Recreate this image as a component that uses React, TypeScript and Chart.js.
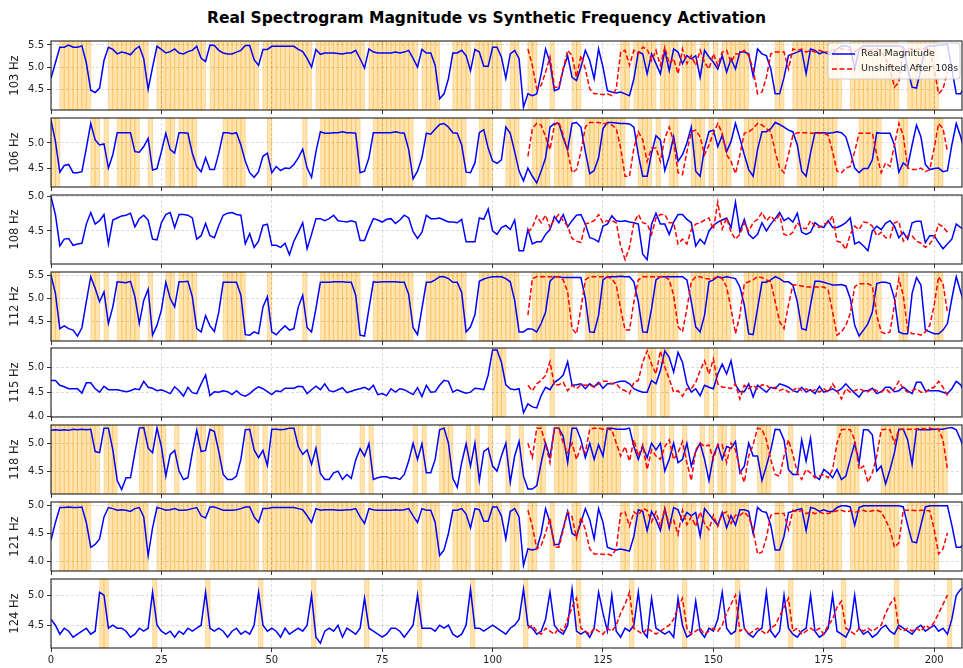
import { useEffect, useRef } from "react";
import { Chart, registerables } from "chart.js";

Chart.register(...registerables);

const FONT = "'DejaVu Sans', sans-serif";
const TITLE = "Real Spectrogram Magnitude vs Synthetic Frequency Activation";
const LEGEND_BLUE = "Real Magnitude";
const LEGEND_RED = "Unshifted After 108s";
const xTickValues = [0, 25, 50, 75, 100, 125, 150, 175, 200];
const X_MIN = 0;
const X_MAX = 206.3;
const RED_START = 108;

// ---------- 103 Hz ----------
const blue103 = [
  4.75,5.1,5.45,5.45,5.5,5.45,5.45,5.48,5.1,4.48,
  4.43,4.53,5.15,5.45,5.4,5.3,5.34,5.32,5.28,5.4,
  5.47,5.19,4.5,5.0,5.47,5.4,5.32,5.35,5.41,5.32,
  5.3,5.35,5.38,5.47,5.2,5.13,5.5,5.49,5.38,5.32,
  5.3,5.3,5.34,5.38,5.49,5.49,5.17,5.04,5.4,5.4,
  5.47,5.47,5.47,5.47,5.47,5.47,5.4,5.35,5.2,5.0,
  5.4,5.29,5.32,5.32,5.32,5.31,5.3,5.32,5.32,5.38,
  5.19,4.98,5.41,5.34,5.32,5.32,5.32,5.32,5.34,5.32,
  5.34,5.38,5.2,5.0,5.4,5.32,5.32,5.04,4.29,4.4,
  4.74,5.32,5.32,5.38,5.26,4.92,5.4,5.34,5.02,5.02,
  5.45,5.45,5.23,4.75,5.3,5.38,5.19,4.1,4.4,4.36,
  4.4,4.85,5.41,5.11,4.47,4.51,4.96,5.26,4.77,4.7,
  5.0,5.38,5.15,4.74,5.41,5.0,4.47,4.44,4.42,4.44,
  4.4,4.36,4.74,5.34,5.3,4.85,5.3,5.08,4.85,5.38,
  4.92,5.41,5.34,5.08,5.26,5.19,5.26,4.77,5.38,5.23,
  5.11,4.96,5.26,4.89,5.19,4.96,5.34,5.34,5.3,4.8,
  5.41,5.3,5.26,4.96,4.4,4.4,4.77,5.26,5.3,5.34,
  5.38,4.85,5.41,5.38,5.3,5.34,5.3,5.3,5.41,5.48,
  5.48,5.45,4.96,5.41,5.48,5.48,5.48,5.48,5.48,5.48,
  5.48,5.48,5.48,5.45,4.96,4.55,4.53,4.96,5.45,5.48,
  5.48,5.5,5.5,5.52,4.96,4.4,4.4,4.6,
];
const red103 = [
  5.41,5.04,4.51,4.59,4.89,5.23,4.55,4.55,4.96,5.38,
  5.26,4.77,5.26,4.96,4.51,4.4,4.4,4.38,4.4,4.36,
  4.51,5.34,5.38,5.04,5.38,5.3,5.45,5.41,5.15,5.38,
  5.04,5.45,5.08,5.19,4.85,5.41,5.08,5.26,5.04,5.38,
  5.11,4.96,5.3,5.04,5.34,5.38,5.11,5.3,5.3,5.38,
  5.26,4.96,4.4,4.44,4.77,5.3,5.34,5.34,5.34,4.96,
  5.41,5.38,5.41,5.34,5.38,5.34,5.38,5.34,5.34,5.38,
  5.4,5.42,5.38,5.4,5.36,5.4,5.42,5.38,5.4,5.41,
  5.38,5.2,4.96,4.55,4.66,5.41,5.41,5.42,5.4,5.41,
  5.42,5.4,4.96,4.4,4.51,4.89,
];
const spans103 = [
  [2,9],[13,22],[24,35],[36,47],[48,59],[60,71],[72,83],[84,88],[91,95],[96,102],
  [104,106],[108,110],[113,114],[118,120],[129,131],[132,137],[138,142],[143,146],
  [147,149],[150,151],[152,155],[155,158],[164,166],[168,173],[173,179],[181,192],[194,201],
];

// ---------- 106 Hz ----------
const blue106 = [
  5.44,5.03,4.43,4.56,4.58,4.42,4.42,4.44,4.9,5.38,
  5.06,4.96,4.98,4.51,4.77,5.2,5.2,5.2,5.2,4.83,
  4.82,4.93,5.09,4.47,4.5,4.83,5.19,4.87,4.8,5.2,
  5.2,5.19,4.8,4.54,4.44,4.71,4.48,4.48,4.8,5.2,
  5.2,5.18,5.2,4.96,4.64,4.42,4.33,4.44,4.74,4.8,
  4.42,4.54,4.46,4.51,4.5,4.58,4.71,4.88,4.51,4.33,
  4.83,5.22,5.19,5.19,5.2,5.2,5.22,5.2,5.2,5.19,
  4.42,4.45,4.71,5.2,5.2,5.2,5.2,5.2,5.22,5.2,
  5.19,4.87,4.3,4.45,4.71,5.19,5.17,5.27,5.36,5.38,
  5.31,5.2,5.19,4.96,4.43,4.42,4.61,5.2,5.26,4.9,
  4.65,4.6,4.67,5.31,5.19,4.83,4.45,4.26,4.51,4.35,
  4.22,4.45,4.71,5.31,5.38,5.38,5.09,4.87,5.38,5.4,
  5.31,4.83,4.4,4.46,4.71,5.28,5.4,5.4,5.39,5.38,
  5.38,5.37,5.31,4.77,4.35,4.35,4.8,5.14,5.06,4.46,
  4.74,5.12,4.64,4.77,5.0,5.31,4.45,4.35,4.9,5.22,
  5.25,4.93,5.15,4.83,5.03,5.38,5.09,4.77,4.48,4.35,
  4.87,5.22,5.22,5.28,5.4,5.36,5.31,5.25,5.22,4.96,
  4.45,4.35,4.8,5.2,5.2,5.2,5.19,5.2,5.22,5.2,
  5.12,4.83,4.51,4.42,4.5,4.5,4.67,5.2,5.19,5.19,
  5.19,4.96,4.43,4.61,4.54,4.96,5.35,5.12,4.58,4.48,
  4.5,4.51,4.44,4.46,4.96,5.38,5.12,4.8,
];
const red106 = [
  4.74,5.28,5.38,5.35,5.12,4.87,5.35,5.41,5.15,4.83,
  4.42,4.48,4.83,5.31,5.4,5.4,5.4,5.38,5.38,5.35,
  5.28,4.9,4.35,4.35,4.9,5.22,5.06,4.64,4.9,4.9,
  4.64,5.09,5.31,5.03,4.42,4.38,4.83,5.22,5.25,5.12,
  4.77,4.96,5.19,5.38,5.19,4.77,4.64,4.4,4.77,5.19,
  5.22,5.28,5.38,5.35,5.28,5.22,4.83,4.51,4.42,4.77,
  5.15,5.2,5.2,5.2,5.19,5.19,5.19,5.19,5.15,4.83,
  4.45,4.42,4.51,4.54,4.83,5.19,5.19,5.19,5.19,4.77,
  4.42,4.61,4.54,4.96,5.38,5.15,4.51,4.48,4.48,4.51,
  4.44,4.48,4.9,5.38,5.28,4.83,
];
const spans106 = [
  [0,2],[9,11],[12,13],[15,20],[22,23],[26,28],[29,33],[39,44],[49,50],[57,58],
  [61,70],[73,82],[85,94],[97,100],[103,106],[109,113],[114,118],[121,130],[133,136],
  [137,138],[140,142],[145,148],[149,150],[151,154],[157,166],[169,178],[183,188],[192,194],[200,202],
];

// ---------- 108 Hz ----------
const blue108 = [
  5.0,4.74,4.28,4.38,4.39,4.29,4.31,4.32,4.6,4.77,
  4.6,4.65,4.74,4.31,4.66,4.69,4.72,4.73,4.76,4.56,
  4.68,4.73,4.66,4.38,4.37,4.62,4.74,4.77,4.55,4.74,
  4.74,4.73,4.69,4.38,4.43,4.61,4.43,4.4,4.58,4.73,
  4.76,4.77,4.74,4.73,4.31,4.46,4.26,4.35,4.58,4.6,
  4.29,4.29,4.26,4.32,4.15,4.35,4.48,4.62,4.24,4.45,
  4.68,4.68,4.65,4.68,4.73,4.65,4.64,4.63,4.65,4.63,
  4.36,4.36,4.53,4.68,4.66,4.63,4.67,4.68,4.61,4.66,
  4.73,4.69,4.49,4.39,4.48,4.73,4.68,4.68,4.69,4.66,
  4.63,4.63,4.62,4.67,4.34,4.34,4.34,4.69,4.67,4.82,
  4.5,4.45,4.55,4.58,4.52,4.66,4.21,4.21,4.52,4.31,
  4.34,4.34,4.45,4.52,4.71,4.62,4.74,4.56,4.65,4.73,
  4.74,4.6,4.4,4.38,4.34,4.57,4.6,4.72,4.65,4.64,
  4.65,4.63,4.62,4.6,4.16,4.08,4.6,4.76,4.6,4.6,
  4.45,4.63,4.74,4.74,4.67,4.62,4.28,4.38,4.31,4.5,
  4.58,4.63,4.66,4.69,4.55,4.92,4.49,4.67,4.45,4.39,
  4.45,4.62,4.5,4.6,4.68,4.77,4.65,4.69,4.63,4.76,
  4.48,4.45,4.48,4.62,4.57,4.55,4.65,4.55,4.55,4.58,
  4.62,4.69,4.31,4.34,4.28,4.21,4.5,4.57,4.52,4.61,
  4.65,4.57,4.4,4.48,4.38,4.62,4.64,4.64,4.33,4.43,
  4.43,4.33,4.24,4.31,4.38,4.6,4.55,4.5,
];
const red108 = [
  4.48,4.55,4.72,4.62,4.73,4.55,4.67,4.74,4.65,4.57,
  4.39,4.35,4.33,4.6,4.62,4.65,4.74,4.62,4.65,4.65,
  4.62,4.28,4.08,4.26,4.62,4.74,4.62,4.6,4.45,4.69,
  4.74,4.74,4.62,4.62,4.31,4.38,4.31,4.52,4.6,4.62,
  4.66,4.69,4.52,4.92,4.53,4.69,4.48,4.38,4.45,4.62,
  4.5,4.62,4.67,4.77,4.65,4.72,4.65,4.73,4.45,4.43,
  4.48,4.62,4.55,4.53,4.65,4.57,4.55,4.6,4.62,4.72,
  4.35,4.33,4.23,4.45,4.57,4.52,4.63,4.62,4.57,4.43,
  4.48,4.4,4.4,4.62,4.64,4.35,4.43,4.43,4.35,4.32,
  4.26,4.31,4.4,4.6,4.56,4.48,
];
const spans108: number[][] = [];

// ---------- 112 Hz ----------
const blue112 = [
  5.5,5.11,4.35,4.41,4.35,4.32,4.19,4.37,4.93,5.47,
  5.22,4.93,5.14,4.46,4.82,5.36,5.35,5.34,5.37,5.04,
  4.46,4.96,5.2,4.21,4.42,4.75,5.35,5.0,4.82,5.36,
  5.36,5.37,5.04,4.35,4.28,4.63,4.41,4.29,4.71,5.35,
  5.35,5.35,5.35,5.07,4.22,4.21,4.28,4.24,4.82,5.04,
  4.28,4.22,4.32,4.41,4.32,4.35,4.82,5.07,4.37,4.28,
  4.78,5.35,5.35,5.35,5.36,5.36,5.36,5.35,5.35,5.07,
  4.21,4.19,4.78,5.36,5.35,5.36,5.36,5.36,5.36,5.35,
  5.35,5.09,4.37,4.22,4.78,5.35,5.35,5.4,5.47,5.47,
  5.43,5.35,5.35,5.13,4.28,4.39,4.65,5.37,5.42,5.45,
  5.47,5.47,5.47,5.43,5.36,4.96,4.28,4.28,4.35,4.34,
  4.28,4.46,4.71,5.37,5.47,5.47,5.45,5.45,5.45,5.45,
  5.45,5.0,4.28,4.27,4.64,5.4,5.47,5.47,5.47,5.48,
  5.47,5.47,5.36,4.93,4.28,4.27,4.78,5.4,5.47,5.47,
  5.47,5.47,5.47,5.47,5.4,4.93,4.39,4.28,4.64,5.36,
  5.4,5.47,5.45,5.47,5.45,5.43,5.25,4.86,4.24,4.22,
  4.78,5.35,5.35,5.4,5.47,5.43,5.36,5.36,5.29,4.93,
  4.35,4.32,4.86,5.37,5.37,5.35,5.32,5.29,5.29,5.3,
  5.27,5.0,4.42,4.19,4.32,4.46,4.71,5.32,5.35,5.35,
  5.32,5.0,4.28,4.24,4.24,5.11,5.45,5.29,4.32,4.28,
  4.24,4.24,4.32,4.46,5.0,5.47,5.14,4.85,
];
const red112 = [
  4.64,5.43,5.47,5.47,5.47,5.47,5.47,5.47,5.4,5.14,
  4.35,4.24,4.78,5.4,5.47,5.47,5.47,5.47,5.47,5.43,
  5.29,4.78,4.32,4.32,4.93,5.4,5.47,5.47,5.47,5.47,
  5.47,5.47,5.4,5.07,4.39,4.28,4.78,5.36,5.47,5.47,
  5.43,5.42,5.43,5.47,5.43,5.25,4.78,4.24,4.64,5.32,
  5.36,5.4,5.47,5.45,5.4,5.36,4.93,4.5,4.35,4.86,
  5.29,5.29,5.27,5.25,5.25,5.25,5.25,5.25,5.18,4.71,
  4.21,4.28,4.42,4.68,5.25,5.32,5.32,5.32,5.27,4.64,
  4.28,4.24,4.28,4.86,5.43,5.07,4.32,4.24,4.24,4.21,
  4.28,4.42,4.86,5.47,5.32,4.71,
];
const spans112 = [
  [0,2],[9,11],[12,13],[15,20],[22,23],[26,28],[29,33],[39,44],[49,50],[57,58],
  [61,70],[73,82],[85,94],[97,106],[109,118],[121,130],[133,142],[145,154],[157,166],
  [169,178],[183,188],[192,194],[200,202],
];

// ---------- 115 Hz ----------
const blue115 = [
  4.74,4.74,4.64,4.61,4.57,4.57,4.57,4.48,4.69,4.69,
  4.57,4.5,4.62,4.55,4.55,4.55,4.53,4.51,4.53,4.57,
  4.55,4.72,4.6,4.58,4.53,4.55,4.51,4.47,4.61,4.53,
  4.42,4.6,4.49,4.47,4.67,4.85,4.43,4.51,4.5,4.53,
  4.51,4.45,4.53,4.45,4.42,4.47,4.55,4.61,4.57,4.51,
  4.45,4.53,4.51,4.58,4.58,4.58,4.62,4.61,4.47,4.55,
  4.62,4.55,4.67,4.53,4.51,4.55,4.59,4.49,4.52,4.55,
  4.57,4.6,4.55,4.64,4.45,4.47,4.43,4.57,4.5,4.57,
  4.55,4.5,4.45,4.59,4.41,4.64,4.5,4.51,4.64,4.74,
  4.72,4.5,4.55,4.51,4.48,4.5,4.58,4.57,4.55,4.85,
  5.36,5.36,5.11,4.65,4.57,4.55,4.57,4.08,4.26,4.2,
  4.18,4.43,4.6,4.55,4.7,4.76,4.85,5.12,4.64,4.65,
  4.67,4.57,4.67,4.61,4.7,4.58,4.67,4.67,4.7,4.72,
  4.72,4.67,4.57,4.53,4.5,4.5,4.74,4.67,4.94,5.34,
  5.21,4.91,5.31,5.11,4.67,4.5,4.57,4.43,4.64,4.6,
  4.57,4.87,5.07,4.87,5.14,4.65,4.51,4.51,4.67,4.4,
  4.64,4.57,4.5,4.6,4.57,4.67,4.64,4.6,4.53,4.5,
  4.6,4.5,4.55,4.47,4.62,4.5,4.53,4.57,4.51,4.57,
  4.67,4.57,4.48,4.4,4.53,4.53,4.58,4.47,4.51,4.6,
  4.6,4.51,4.53,4.6,4.53,4.47,4.7,4.7,4.53,4.53,
  4.53,4.53,4.5,4.47,4.57,4.72,4.65,4.45,
];
const red115 = [
  4.64,4.53,4.67,4.74,4.84,5.12,4.64,4.65,4.7,4.53,
  4.64,4.57,4.65,4.64,4.65,4.6,4.67,4.72,4.72,4.67,
  4.67,4.57,4.53,4.47,4.7,4.74,5.11,5.34,5.07,4.87,
  5.34,5.01,4.77,4.5,4.53,4.42,4.57,4.57,4.7,4.94,
  5.14,4.87,5.18,4.67,4.6,4.6,4.57,4.67,4.36,4.64,
  4.57,4.64,4.57,4.65,4.64,4.57,4.6,4.53,4.57,4.5,
  4.53,4.6,4.53,4.57,4.51,4.55,4.5,4.57,4.5,4.67,
  4.53,4.36,4.57,4.5,4.53,4.57,4.53,4.51,4.57,4.53,
  4.5,4.57,4.49,4.57,4.72,4.57,4.5,4.53,4.57,4.5,
  4.5,4.57,4.6,4.72,4.6,4.43,
];
const spans115 = [[100,103],[113,114],[135,137],[138,140],[148,149],[150,151]];

// ---------- 118 Hz ----------
const blue118 = [
  5.24,5.25,5.24,5.25,5.24,5.26,5.25,5.26,5.25,5.26,
  4.86,4.84,5.28,5.28,4.89,4.34,4.18,4.39,4.39,4.84,
  5.28,5.29,4.92,4.84,5.28,4.95,4.42,4.81,4.88,4.51,
  4.36,4.39,4.84,5.24,4.86,4.88,5.26,5.22,4.86,4.45,
  4.36,4.36,4.42,4.72,5.25,5.26,4.89,4.75,4.88,4.61,
  5.26,5.26,5.25,5.26,5.28,5.28,4.95,4.81,4.89,4.63,
  4.92,4.47,4.36,4.36,4.48,4.51,4.36,4.45,4.38,4.71,
  4.91,4.78,5.0,4.36,4.39,4.41,4.41,4.38,4.39,4.36,
  4.45,4.69,5.01,4.72,5.0,4.48,4.48,4.72,5.25,5.28,
  5.01,4.38,4.22,4.66,5.0,4.6,5.01,4.34,4.86,4.92,
  4.6,4.51,4.78,5.01,4.31,4.78,5.04,4.42,4.19,4.19,
  4.25,4.66,5.01,4.75,5.28,5.28,5.13,4.66,5.28,5.28,
  5.07,4.75,5.01,4.72,4.98,4.78,5.28,5.28,5.26,5.26,
  5.26,5.28,4.95,4.72,4.95,4.75,5.01,4.89,5.01,4.51,
  4.72,5.01,4.66,4.72,5.01,4.6,4.86,5.01,4.72,4.34,
  4.78,4.98,4.72,4.95,4.92,5.04,4.48,4.6,5.01,4.78,
  4.78,4.34,4.6,4.89,5.26,5.25,5.07,4.54,4.45,4.45,
  5.07,4.69,5.1,4.42,4.36,4.54,4.48,4.39,4.54,4.36,
  4.42,4.72,5.01,4.66,5.25,5.25,5.16,4.51,4.6,4.28,
  4.54,4.84,5.26,5.26,5.07,4.63,5.26,5.25,5.25,5.25,
  5.26,5.26,5.26,5.28,5.29,5.25,5.07,4.84,
];
const red118 = [
  5.01,4.75,5.28,5.28,4.98,4.66,5.28,5.28,5.01,4.84,
  5.01,4.72,4.95,4.84,5.26,5.28,5.28,5.26,5.26,5.25,
  5.01,4.78,4.95,4.69,5.07,4.78,4.98,4.54,4.89,4.78,
  4.72,4.95,5.07,4.72,4.84,5.04,4.66,4.34,4.89,5.01,
  4.95,4.98,4.72,4.98,4.98,4.66,5.01,4.89,4.54,4.31,
  4.78,4.98,5.28,5.26,5.07,4.72,4.45,4.42,4.78,5.07,
  4.81,4.48,4.36,4.54,4.48,4.39,4.42,4.45,4.39,4.54,
  5.01,5.25,5.26,5.25,5.07,4.54,4.6,4.31,4.48,4.78,
  5.25,5.26,5.25,5.01,5.25,5.26,5.26,5.26,5.26,5.28,
  5.26,5.28,5.26,5.26,5.07,4.54,
];
const spans118 = [
  [0,11],[12,15],[20,23],[24,26],[28,29],[33,35],[36,39],[44,47],[48,49],[50,57],
  [58,59],[60,61],[70,71],[72,73],[82,83],[84,85],[88,91],[94,95],[96,97],[99,100],
  [103,104],[106,107],[110,112],[114,119],[122,129],[132,133],[134,135],[136,137],
  [138,139],[140,141],[143,144],[147,148],[149,150],[151,153],[154,155],[160,163],
  [167,168],[178,183],[188,203],
];

// ---------- 121 Hz ----------
const blue121 = [
  4.38,4.7,4.97,4.97,4.98,4.97,4.97,4.98,4.7,4.25,
  4.3,4.4,4.8,4.97,4.95,4.92,4.93,4.92,4.9,4.95,
  4.97,4.8,4.1,4.6,4.97,4.95,4.92,4.93,4.95,4.92,
  4.92,4.93,4.95,4.97,4.82,4.78,4.98,4.98,4.95,4.92,
  4.92,4.92,4.93,4.95,4.98,4.98,4.8,4.7,4.95,4.95,
  4.97,4.97,4.97,4.97,4.97,4.97,4.95,4.93,4.82,4.7,
  4.95,4.92,4.93,4.93,4.93,4.92,4.92,4.93,4.93,4.95,
  4.8,4.68,4.95,4.93,4.92,4.92,4.92,4.92,4.93,4.92,
  4.93,4.95,4.82,4.7,4.95,4.92,4.92,4.7,4.1,4.2,
  4.5,4.92,4.92,4.95,4.85,4.6,4.95,4.93,4.72,4.72,
  4.98,4.98,4.82,4.4,4.9,4.95,4.8,3.92,4.22,4.2,
  4.22,4.5,4.95,4.7,4.3,4.3,4.6,4.9,4.5,4.45,
  4.7,4.95,4.75,4.4,4.95,4.7,4.25,4.22,4.2,4.22,
  4.2,4.18,4.45,4.93,4.9,4.55,4.9,4.75,4.55,4.95,
  4.6,4.97,4.93,4.72,4.88,4.82,4.88,4.45,4.95,4.85,
  4.75,4.65,4.88,4.6,4.82,4.65,4.93,4.93,4.9,4.5,
  4.97,4.9,4.88,4.65,4.2,4.2,4.45,4.88,4.9,4.93,
  4.95,4.55,4.97,4.95,4.9,4.93,4.9,4.9,4.97,5.0,
  5.0,4.98,4.65,4.97,5.0,5.0,5.0,5.0,5.0,5.0,
  5.0,5.0,5.0,4.98,4.65,4.35,4.33,4.65,4.98,5.0,
  5.0,5.0,5.0,5.0,4.65,4.25,4.25,4.35,
];
const red121 = [
  4.92,4.63,4.22,4.28,4.51,4.78,4.25,4.25,4.57,4.89,
  4.8,4.42,4.8,4.57,4.22,4.13,4.13,4.12,4.13,4.1,
  4.22,4.86,4.89,4.63,4.89,4.83,4.95,4.92,4.71,4.89,
  4.63,4.95,4.66,4.74,4.48,4.92,4.66,4.8,4.63,4.89,
  4.68,4.57,4.83,4.63,4.86,4.89,4.68,4.83,4.83,4.89,
  4.8,4.57,4.13,4.16,4.42,4.83,4.86,4.86,4.86,4.57,
  4.92,4.89,4.92,4.86,4.89,4.86,4.89,4.86,4.86,4.89,
  4.91,4.92,4.89,4.91,4.88,4.91,4.92,4.89,4.91,4.92,
  4.89,4.75,4.57,4.25,4.33,4.92,4.92,4.92,4.91,4.92,
  4.92,4.91,4.57,4.13,4.22,4.51,
];
const spans121 = [
  [2,9],[13,22],[24,35],[36,47],[48,59],[60,71],[72,83],[84,88],[91,95],[96,102],
  [104,106],[108,110],[113,114],[118,120],[129,131],[132,137],[138,142],[143,146],
  [147,149],[150,151],[152,155],[155,158],[164,166],[168,173],[173,179],[181,192],[194,201],
];

// ---------- 124 Hz ----------
const blue124 = [
  4.6,4.5,4.35,4.45,4.4,4.3,4.35,4.4,4.45,4.35,
  4.4,5.05,5.0,4.45,4.5,4.45,4.45,4.4,4.3,4.35,
  4.45,4.4,4.45,5.05,4.5,4.4,4.35,4.4,4.3,4.4,
  4.35,4.45,4.4,4.45,4.5,5.05,4.45,4.4,4.45,4.4,
  4.3,4.4,4.45,4.35,4.4,4.35,4.5,5.05,4.5,4.4,
  4.45,4.4,4.3,4.45,4.35,4.4,4.45,4.4,4.5,5.0,
  4.3,4.2,4.4,4.45,4.4,4.5,4.3,4.45,4.4,4.35,
  4.45,4.95,4.45,4.4,4.35,4.3,4.35,4.45,4.45,4.4,
  4.3,4.4,4.5,5.0,4.45,4.45,4.45,4.4,4.5,4.45,
  4.5,4.35,4.3,4.35,4.5,5.1,4.45,4.45,4.4,4.45,
  4.5,4.45,4.4,4.35,4.45,4.5,4.6,5.1,4.5,4.45,
  4.35,4.4,4.6,5.05,4.5,4.4,4.35,4.5,5.1,4.4,
  4.35,4.4,4.3,4.45,5.05,4.7,4.4,5.0,4.4,4.3,
  4.45,4.4,4.5,5.05,4.4,4.3,4.95,4.45,4.4,4.35,
  4.4,4.3,4.95,4.5,4.3,4.35,4.9,4.4,4.3,4.45,
  4.4,4.6,5.05,4.45,4.35,4.4,5.0,4.45,4.35,4.3,
  4.4,4.45,5.05,4.4,4.3,4.4,5.0,4.45,4.35,4.3,
  4.4,4.45,5.0,4.4,4.3,4.35,4.45,5.0,4.4,4.35,
  4.3,4.45,5.0,4.45,4.35,4.4,4.3,4.35,4.45,4.5,
  4.4,4.35,4.5,4.45,4.4,4.35,4.45,4.5,4.4,4.45,
  4.5,4.4,4.45,4.35,4.6,5.0,5.1,5.15,
];
const red124 = [
  4.45,4.5,4.4,4.35,4.45,4.4,4.35,4.45,4.4,4.6,
  4.8,4.95,4.45,4.4,4.35,4.45,4.4,4.35,4.45,4.4,
  4.5,4.7,4.85,5.05,4.45,4.4,4.35,4.45,4.4,4.35,
  4.4,4.45,4.5,4.6,4.8,4.95,4.45,4.35,4.4,4.45,
  4.35,4.4,4.45,4.4,4.5,4.7,4.85,5.0,4.4,4.45,
  4.35,4.4,4.45,4.4,4.35,4.45,4.5,4.65,4.8,4.95,
  4.4,4.45,4.35,4.4,4.45,4.4,4.45,4.35,4.5,4.6,
  4.8,4.9,4.45,4.4,4.35,4.45,4.4,4.45,4.4,4.45,
  4.5,4.7,4.85,4.95,4.45,4.4,4.45,4.4,4.45,4.4,
  4.5,4.45,4.55,4.7,4.85,5.0,
];
const spans124 = [
  [11,13],[23,24],[35,36],[47,48],[59,60],[71,72],[83,84],[95,96],[107,108],
  [119,120],[131,132],[143,144],[155,156],[167,168],[179,180],[191,192],[203,204],
];

const panelLabels = ["103 Hz", "106 Hz", "108 Hz", "112 Hz", "115 Hz", "118 Hz", "121 Hz", "124 Hz"];
const panelRanges = [
  [4.036, 5.59], [4.14, 5.487], [4.016, 5.026], [4.084, 5.571],
  [3.994, 5.40], [4.10, 5.336], [3.82, 5.07], [4.12, 5.27],
];
const panelYTicks = [
  [4.5, 5.0, 5.5], [4.5, 5.0], [4.5, 5.0], [4.5, 5.0, 5.5],
  [4.0, 4.5, 5.0], [4.5, 5.0], [4.0, 4.5, 5.0], [4.5, 5.0],
];
const panelBlue = [blue103, blue106, blue108, blue112, blue115, blue118, blue121, blue124];
const panelRed = [red103, red106, red108, red112, red115, red118, red121, red124];
const panelSpans = [spans103, spans106, spans108, spans112, spans115, spans118, spans121, spans124];

// layout
const FIG_W = 963;
const FIG_H = 668;
const AX_LEFT = 51;
const AX_RIGHT = 962;
const AX_TOP0 = 41;
const AX_PITCH = 76.86;
const AX_H = 69;
const PAD_T = 12;
const X_AXIS_H = 24;

function Panel({ index }: { index: number }) {
  const ref = useRef<HTMLCanvasElement | null>(null);
  const top = Math.round(AX_TOP0 + AX_PITCH * index);
  const canvasH = PAD_T + AX_H + X_AXIS_H;
  const isLast = index === panelLabels.length - 1;

  useEffect(() => {
    if (!ref.current) return;
    const spans = panelSpans[index];
    const spanPlugin = {
      id: "spans" + index,
      beforeDraw(chart: any) {
        const { ctx, chartArea } = chart;
        const xs = chart.scales.x;
        const { left, right, top: t, bottom } = chartArea;
        ctx.save();
        ctx.beginPath();
        ctx.rect(left, t, right - left, bottom - t);
        ctx.clip();
        ctx.fillStyle = "rgba(255,165,0,0.3)";
        ctx.strokeStyle = "rgba(255,165,0,0.3)";
        ctx.lineWidth = 1;
        for (const [a, b] of spans) {
          for (let s = a; s < b; s++) {
            const x0 = xs.getPixelForValue(s);
            const x1 = xs.getPixelForValue(s + 1);
            ctx.fillRect(x0, t, x1 - x0, bottom - t);
            ctx.strokeRect(x0, t, x1 - x0, bottom - t);
          }
        }
        ctx.restore();
      },
    };
    const framePlugin = {
      id: "frame" + index,
      afterDraw(chart: any) {
        const { ctx, chartArea } = chart;
        const { left, right, top: t, bottom } = chartArea;
        ctx.save();
        if (index === 0) {
          const bx = right - 134;
          const by = t + 2;
          const bw = 132;
          const bh = 36;
          ctx.beginPath();
          ctx.roundRect(bx, by, bw, bh, 3);
          ctx.fillStyle = "rgba(255,255,255,0.8)";
          ctx.fill();
          ctx.strokeStyle = "rgba(200,200,200,0.9)";
          ctx.lineWidth = 1;
          ctx.stroke();
          ctx.lineWidth = 1.5;
          ctx.strokeStyle = "#0000ff";
          ctx.setLineDash([]);
          ctx.beginPath();
          ctx.moveTo(bx + 4, by + 11);
          ctx.lineTo(bx + 27, by + 11);
          ctx.stroke();
          ctx.strokeStyle = "#ff0000";
          ctx.setLineDash([5, 2.5]);
          ctx.beginPath();
          ctx.moveTo(bx + 4, by + 26);
          ctx.lineTo(bx + 27, by + 26);
          ctx.stroke();
          ctx.setLineDash([]);
          ctx.fillStyle = "#222";
          ctx.font = "9.5px " + FONT;
          ctx.textBaseline = "middle";
          ctx.textAlign = "left";
          ctx.fillText(LEGEND_BLUE, bx + 33, by + 11);
          ctx.fillText(LEGEND_RED, bx + 33, by + 26);
        }
        ctx.strokeStyle = "#222";
        ctx.lineWidth = 1.1;
        ctx.strokeRect(left, t, right - left, bottom - t);
        ctx.restore();
      },
    };

    const [yMin, yMax] = panelRanges[index];
    const yTicks = panelYTicks[index];
    const chart = new Chart(ref.current, {
      type: "line",
      data: {
        datasets: [
          {
            label: LEGEND_BLUE,
            data: panelBlue[index].map((y, i) => ({ x: i, y })),
            borderColor: "#0000ff",
            borderWidth: 1.5,
            pointRadius: 0,
            fill: false,
            tension: 0,
            order: 1,
          },
          {
            label: LEGEND_RED,
            data: panelRed[index].map((y, j) => ({ x: RED_START + j, y })),
            borderColor: "#ff0000",
            borderWidth: 1.5,
            borderDash: [5, 2.5],
            pointRadius: 0,
            fill: false,
            tension: 0,
            order: 0,
          },
        ],
      },
      options: {
        animation: false,
        responsive: false,
        events: [],
        layout: { padding: { top: PAD_T, left: 0, right: FIG_W - AX_RIGHT, bottom: 0 } },
        plugins: { legend: { display: false }, tooltip: { enabled: false }, title: { display: false } },
        scales: {
          x: {
            type: "linear",
            min: X_MIN,
            max: X_MAX,
            afterBuildTicks: (s: any) => {
              s.ticks = xTickValues.map((v) => ({ value: v }));
            },
            afterFit: (s: any) => {
              s.height = X_AXIS_H;
            },
            ticks: {
              display: isLast,
              autoSkip: false,
              maxRotation: 0,
              padding: 2,
              color: "#222",
              font: { family: FONT, size: 10 },
              callback: (v: any) => String(v),
            },
            grid: {
              color: "rgba(0,0,0,0.17)",
              lineWidth: 0.8,
              drawTicks: true,
              tickLength: 4,
              tickColor: "#333",
              tickWidth: 1,
              tickBorderDash: [],
            },
            border: { display: false, dash: [3, 2] },
          },
          y: {
            type: "linear",
            min: yMin,
            max: yMax,
            afterBuildTicks: (s: any) => {
              s.ticks = yTicks.map((v) => ({ value: v }));
            },
            afterFit: (s: any) => {
              s.width = AX_LEFT;
            },
            ticks: {
              padding: 3,
              color: "#222",
              font: { family: FONT, size: 10 },
              callback: (v: any) => Number(v).toFixed(1),
            },
            grid: {
              color: "rgba(0,0,0,0.17)",
              lineWidth: 0.8,
              drawTicks: true,
              tickLength: 4,
              tickColor: "#333",
              tickWidth: 1,
              tickBorderDash: [],
            },
            border: { display: false, dash: [3, 2] },
            title: {
              display: true,
              text: panelLabels[index],
              color: "#222",
              font: { family: FONT, size: 11.5 },
              padding: { top: 8, bottom: 0 },
            },
          },
        },
      },
      plugins: [spanPlugin, framePlugin],
    } as any);
    return () => chart.destroy();
  }, [index]);

  return (
    <canvas
      ref={ref}
      width={FIG_W}
      height={canvasH}
      style={{ position: "absolute", left: 0, top: top - PAD_T, width: FIG_W, height: canvasH }}
    />
  );
}

export default function App() {
  return (
    <div
      style={{
        position: "absolute",
        left: 0,
        top: 0,
        width: FIG_W,
        height: FIG_H,
        background: "#fff",
        overflow: "hidden",
      }}
    >
      <div
        style={{
          position: "absolute",
          left: 0,
          top: 8,
          width: 973,
          textAlign: "center",
          fontFamily: FONT,
          fontWeight: "bold",
          fontSize: 15.5,
          lineHeight: "20px",
          color: "#000",
        }}
      >
        {TITLE}
      </div>
      {panelLabels.map((_, i) => (
        <Panel key={i} index={i} />
      ))}
    </div>
  );
}
